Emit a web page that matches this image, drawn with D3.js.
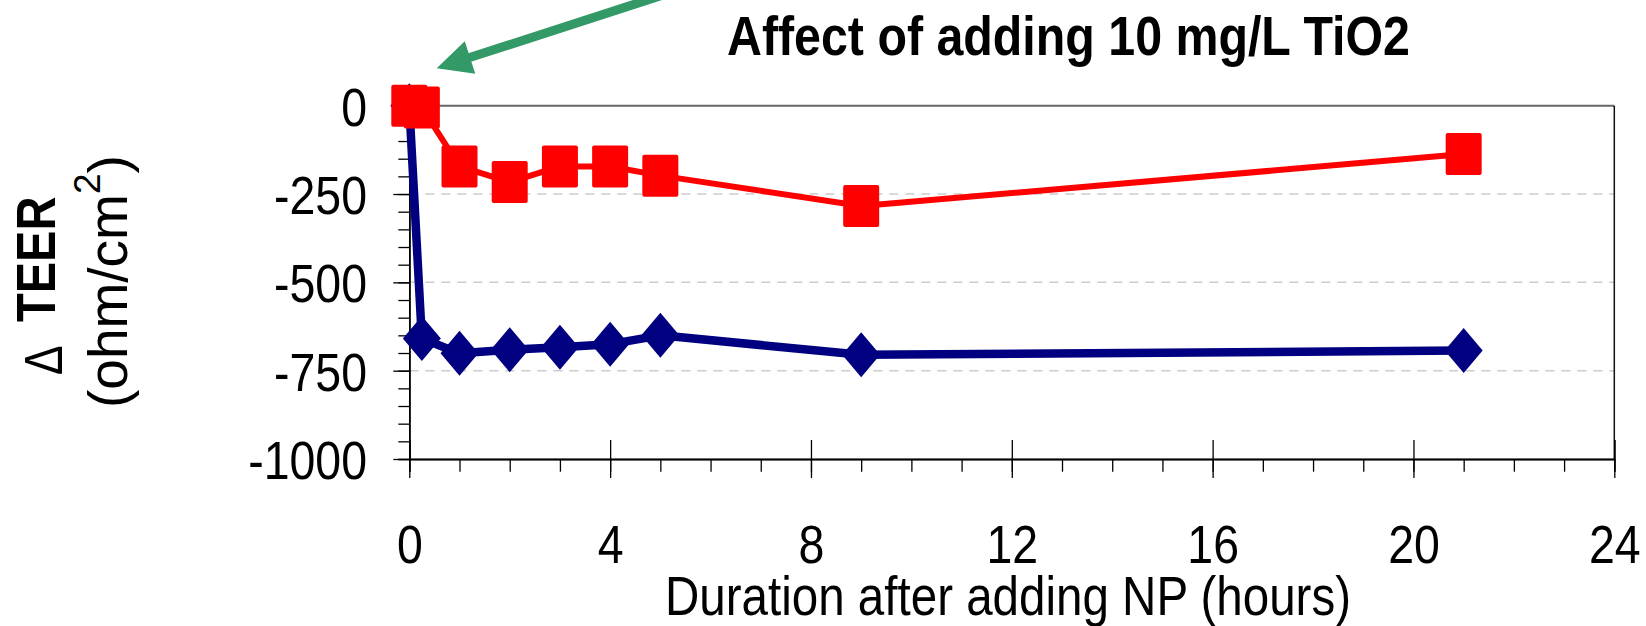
<!DOCTYPE html>
<html>
<head>
<meta charset="utf-8">
<script src="https://cdn.jsdelivr.net/npm/d3@7"></script>
<style>
  body { margin: 0; background: #fff; }
  text { font-family: "Liberation Sans", Arial, sans-serif; }
</style>
</head>
<body>
<div id="chart"></div>
<script>
// hours after adding the nanoparticles
var hours = [0, 0.25, 1, 2, 3, 4, 5, 9, 21];
// change of TEER, ohm/cm2
var redValues = [0, -5, -172, -216, -172, -172, -198, -284, -137];
var blueValues = [0, -659, -701, -691, -684, -675, -650, -705, -693];

var xTicks = [0, 4, 8, 12, 16, 20, 24];
var yTicks = [0, -250, -500, -750, -1000];
var gridValues = [-250, -500, -750];

var titleText = "Affect of adding 10 mg/L TiO2";
var xTitle = "Duration after adding NP (hours)";

var W = 1646, H = 626;
var m = {top: 105.7, right: 1646 - 1614.3, bottom: 626 - 459, left: 409.3};

var x = d3.scaleLinear().domain([0, 24]).range([m.left, W - m.right]);
var y = d3.scaleLinear().domain([-1000, 0]).range([H - m.bottom, m.top]);

var svg = d3.select("#chart").append("svg")
    .attr("width", W)
    .attr("height", H)
    .style("display", "block");

svg.append("rect").attr("width", W).attr("height", H).attr("fill", "#fff");

// squeeze text horizontally like the original (narrow look)
function squeeze(sel, k) {
    sel.each(function() {
        var len = this.getComputedTextLength();
        d3.select(this).attr("textLength", len * k).attr("lengthAdjust", "spacingAndGlyphs");
    });
}

// gridlines
svg.append("g").selectAll("line")
    .data(gridValues)
    .enter().append("line")
    .attr("x1", x(0)).attr("x2", x(24))
    .attr("y1", function(d) { return y(d); })
    .attr("y2", function(d) { return y(d); })
    .attr("stroke", "#cccccc")
    .attr("stroke-width", 1.5)
    .attr("stroke-dasharray", "9,7");

// frame top / right
svg.append("line")
    .attr("x1", x(0)).attr("x2", x(24)).attr("y1", y(0)).attr("y2", y(0))
    .attr("stroke", "#666").attr("stroke-width", 2);
svg.append("line")
    .attr("x1", x(24)).attr("x2", x(24)).attr("y1", y(0)).attr("y2", y(-1000))
    .attr("stroke", "#111").attr("stroke-width", 1.5);

// x axis: minor ticks down, major ticks both ways
var xMinor = svg.append("g")
    .attr("transform", "translate(0," + y(-1000) + ")")
    .call(d3.axisBottom(x).tickValues(d3.range(0, 25, 1)).tickSize(12.7).tickFormat(""));
var xMajorUp = svg.append("g")
    .attr("transform", "translate(0," + y(-1000) + ")")
    .call(d3.axisTop(x).tickValues(xTicks).tickSize(19).tickFormat(""));
var xAxis = svg.append("g")
    .attr("transform", "translate(0," + y(-1000) + ")")
    .call(d3.axisBottom(x).tickValues(xTicks).tickSizeInner(19).tickSizeOuter(0)
        .tickPadding(46.5).tickFormat(function(d) { return String(d); }));

// y axis
var yMinor = svg.append("g")
    .attr("transform", "translate(" + x(0) + ",0)")
    .call(d3.axisLeft(y).tickValues(d3.range(-1000, 1, 50)).tickSize(11).tickFormat(""));
var yAxis = svg.append("g")
    .attr("transform", "translate(" + x(0) + ",0)")
    .call(d3.axisLeft(y).tickValues(yTicks).tickSizeInner(16).tickSizeOuter(0)
        .tickPadding(26.3).tickFormat(function(d) { return String(d); }));

[xMinor, xMajorUp, xAxis, yMinor, yAxis].forEach(function(g) {
    g.selectAll(".tick line").attr("stroke", "#000").attr("stroke-width", 1.3);
    g.select(".domain").attr("stroke", "#000").attr("stroke-width", 1.6);
});

xAxis.selectAll("text")
    .attr("font-size", 54)
    .attr("fill", "#000")
    .style("font-family", "'Liberation Sans', Arial, sans-serif");
yAxis.selectAll("text")
    .attr("font-size", 54)
    .attr("dy", "0.36em")
    .attr("fill", "#000")
    .style("font-family", "'Liberation Sans', Arial, sans-serif");
squeeze(xAxis.selectAll("text"), 0.86);
squeeze(yAxis.selectAll("text"), 0.86);

// series lines
var line = d3.line()
    .x(function(d) { return x(d.t); })
    .y(function(d) { return y(d.v); });

var blue = hours.map(function(t, i) { return {t: t, v: blueValues[i]}; });
var red = hours.map(function(t, i) { return {t: t, v: redValues[i]}; });

svg.append("path")
    .datum(blue)
    .attr("d", line)
    .attr("fill", "none")
    .attr("stroke", "#000080")
    .attr("stroke-width", 8.5)
    .attr("stroke-linejoin", "round");

svg.append("g").selectAll("path")
    .data(blue)
    .enter().append("path")
    .attr("d", "M0,-22.5L19,0L0,22.5L-19,0Z")
    .attr("transform", function(d) { return "translate(" + x(d.t) + "," + y(d.v) + ")"; })
    .attr("fill", "#000080");

svg.append("path")
    .datum(red)
    .attr("d", line)
    .attr("fill", "none")
    .attr("stroke", "#ff0000")
    .attr("stroke-width", 6)
    .attr("stroke-linejoin", "round");

svg.append("g").selectAll("rect")
    .data(red)
    .enter().append("rect")
    .attr("x", function(d) { return x(d.t) - 18; })
    .attr("y", function(d) { return y(d.v) - 21; })
    .attr("width", 36)
    .attr("height", 42)
    .attr("rx", 2)
    .attr("fill", "#ff0000");

// green pointer arrow (annotation, in data units)
var tip = [x(0.546), y(106)];
var tail = [x(5.35), y(327)];
var dx = tail[0] - tip[0], dy = tail[1] - tip[1];
var len = Math.sqrt(dx * dx + dy * dy);
var ux = dx / len, uy = dy / len;
var base = [tip[0] + ux * 35, tip[1] + uy * 35];
svg.append("line")
    .attr("x1", base[0] - ux * 2).attr("y1", base[1] - uy * 2)
    .attr("x2", tail[0]).attr("y2", tail[1])
    .attr("stroke", "#339966")
    .attr("stroke-width", 9);
svg.append("path")
    .attr("d", "M" + tip[0] + "," + tip[1] +
        "L" + (base[0] - uy * 17) + "," + (base[1] + ux * 17) +
        "L" + (base[0] + uy * 17) + "," + (base[1] - ux * 17) + "Z")
    .attr("fill", "#339966");

// title
svg.append("text")
    .attr("x", 727)
    .attr("y", 55)
    .attr("font-size", 56)
    .attr("font-weight", "bold")
    .attr("textLength", 683)
    .attr("lengthAdjust", "spacingAndGlyphs")
    .text(titleText);

// x title
svg.append("text")
    .attr("x", 1008)
    .attr("y", 615)
    .attr("text-anchor", "middle")
    .attr("font-size", 56)
    .attr("textLength", 686)
    .attr("lengthAdjust", "spacingAndGlyphs")
    .text(xTitle);

// y title (rotated), squeezed along the text direction
var yt = svg.append("g").attr("transform", "rotate(-90)");
var kD = 0.82, kT = 0.84;
yt.append("text")
    .attr("transform", "scale(" + kD + ",1)")
    .attr("x", -375 / kD)
    .attr("y", 62)
    .attr("font-size", 54)
    .text("\u0394");
yt.append("text")
    .attr("transform", "scale(" + kT + ",1)")
    .attr("x", -322 / kT)
    .attr("y", 55)
    .attr("font-size", 56)
    .attr("font-weight", "bold")
    .text("TEER");
var unit = yt.append("text")
    .attr("x", -408)
    .attr("y", 127)
    .attr("font-size", 55);
unit.append("tspan").text("(ohm/cm");
unit.append("tspan").attr("font-size", 37).attr("dy", -27).text("2");
unit.append("tspan").attr("dy", 27).text(")");
</script>
</body>
</html>
